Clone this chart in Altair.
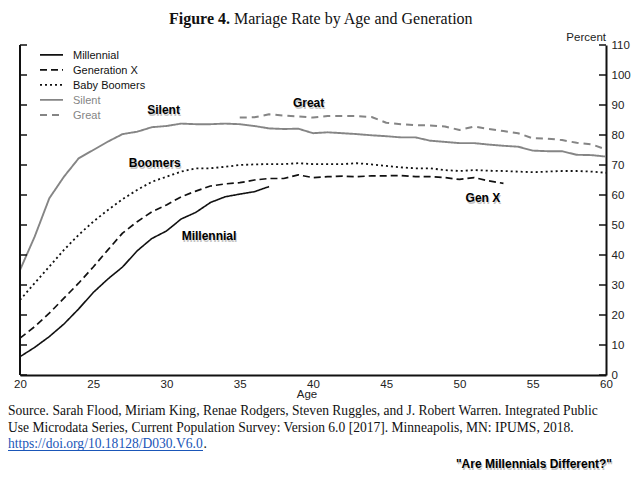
import altair as alt
import pandas as pd

# ---------------- data ----------------
ages_millennial = list(range(20, 38))
millennial = [6.1, 9.2, 12.8, 17.0, 22.0, 27.5, 32.0, 36.0, 41.4, 45.5, 48.0, 52.0,
              54.2, 57.5, 59.4, 60.3, 61.1, 62.8]

ages_genx = list(range(20, 54))
genx = [12.3, 16.1, 20.6, 25.6, 30.6, 36.0, 41.7, 47.3, 51.1, 54.4, 56.7, 59.4,
        61.3, 63.0, 63.7, 64.1, 65.0, 65.5, 65.5, 66.7, 65.8, 66.1, 66.3, 66.1,
        66.4, 66.4, 66.5, 66.1, 66.1, 65.8, 65.2, 65.8, 64.7, 63.9]

ages_boomers = list(range(20, 61))
boomers = [25.0, 30.6, 36.1, 41.7, 46.7, 51.1, 55.0, 58.6, 61.7, 64.4, 66.1, 67.8,
           68.9, 68.9, 69.4, 70.0, 70.2, 70.3, 70.3, 70.6, 70.3, 70.3, 70.3, 70.6,
           70.2, 69.7, 69.2, 68.9, 68.9, 68.3, 68.0, 68.3, 68.1, 68.0, 67.8, 67.6,
           67.8, 68.0, 68.0, 67.8, 67.4]

ages_silent = list(range(20, 61))
silent = [35.0, 46.1, 58.9, 66.1, 72.2, 75.0, 77.8, 80.3, 81.1, 82.6, 83.0, 83.8,
          83.6, 83.6, 83.8, 83.6, 83.0, 82.2, 82.0, 82.1, 80.6, 80.9, 80.6, 80.3,
          79.9, 79.6, 79.2, 79.2, 78.1, 77.7, 77.3, 77.3, 76.8, 76.4, 76.1, 74.8,
          74.6, 74.6, 73.4, 73.3, 72.8]

ages_great = list(range(35, 61))
great = [85.8, 85.9, 86.9, 86.5, 86.2, 85.8, 86.3, 86.3, 86.3, 86.0, 84.1, 83.6,
         83.3, 83.2, 82.8, 81.7, 82.8, 82.0, 81.3, 80.6, 78.9, 78.8, 78.3, 77.4,
         76.9, 75.2]

series_names = ["Millennial", "Generation X", "Baby Boomers", "Silent", "Great"]
series_ages = [ages_millennial, ages_genx, ages_boomers, ages_silent, ages_great]
series_vals = [millennial, genx, boomers, silent, great]

y_ticks = list(range(0, 111, 10))
x_ticks = list(range(20, 61, 5))

annot_labels = ["Silent", "Boomers", "Great", "Gen X", "Millennial"]
annot_age = [29.8, 29.2, 39.7, 51.6, 32.9]
annot_val = [88.3, 70.7, 90.7, 59.0, 46.3]

title_bold = "Figure 4."
title_rest = "Mariage Rate by Age and Generation"
x_title = "Age"
y_title = "Percent"
source_lines = ["Source. Sarah Flood, Miriam King, Renae Rodgers, Steven Ruggles, and J. Robert Warren. Integrated Public",
                "Use Microdata Series, Current Population Survey: Version 6.0 [2017]. Minneapolis, MN: IPUMS, 2018."]
source_url = "https://doi.org/10.18128/D030.V6.0"
tagline = "\"Are Millennials Different?\""

# ---------------- styles ----------------
series_colors = ["#111111", "#111111", "#111111", "#858585", "#858585"]
series_dashes = [[1, 0], [7, 4], [2, 3], [1, 0], [7, 5]]
series_widths = [1.6, 2.0, 2.0, 1.5, 1.6]
SANS = "Liberation Sans, Arial, Helvetica, sans-serif"
SERIF = "Liberation Serif, Times New Roman, serif"
W, H = 586, 330
SRC_SIZE = 13.55

rows = []
for name, ages, vals in zip(series_names, series_ages, series_vals):
    for a, v in zip(ages, vals):
        rows.append({"gen": name, "age": a, "val": v})
df = pd.DataFrame(rows)

color = alt.Color("gen:N", scale=alt.Scale(domain=series_names, range=series_colors), legend=None)
dash = alt.StrokeDash("gen:N", scale=alt.Scale(domain=series_names, range=series_dashes), legend=None)
swidth = alt.StrokeWidth("gen:N", scale=alt.Scale(domain=series_names, range=series_widths), legend=None)

x_enc = alt.X("age:Q", scale=alt.Scale(domain=[20, 60], nice=False, zero=False),
              axis=alt.Axis(values=x_ticks, ticks=False, grid=False, domainColor="#111111",
                            domainWidth=2, labelFont=SANS, labelFontSize=11.5, labelColor="#222222",
                            labelPadding=3, labelFlush=False, labelOverlap=False, title=None))
y_enc = alt.Y("val:Q", scale=alt.Scale(domain=[0, 110], nice=False, zero=True),
              axis=alt.Axis(orient="right", values=y_ticks, ticks=False, grid=False,
                            domainColor="#111111", domainWidth=2, labelFont=SANS, labelFontSize=11.5,
                            labelColor="#222222", labelPadding=5, labelFlush=False, labelOverlap=False,
                            title=None))

lines = alt.Chart(df).mark_line(strokeCap="butt", strokeJoin="round").encode(
    x=x_enc, y=y_enc, color=color, strokeDash=dash, strokeWidth=swidth, detail="gen:N")

# tick marks pointing inward on both vertical axes
tick_df = pd.DataFrame({"val": y_ticks})
ticks_left = alt.Chart(tick_df).mark_rule(color="#111111", strokeWidth=1.5).encode(
    y=alt.Y("val:Q", axis=None), x=alt.value(0), x2=alt.value(7))
ticks_right = alt.Chart(tick_df).mark_rule(color="#111111", strokeWidth=1.5).encode(
    y=alt.Y("val:Q", axis=None), x=alt.value(W - 7), x2=alt.value(W))
left_line = alt.Chart(pd.DataFrame({"lo": [min(y_ticks)], "hi": [max(y_ticks)]})).mark_rule(
    color="#111111", strokeWidth=2).encode(
    x=alt.value(0), y=alt.Y("lo:Q", axis=None), y2="hi:Q")

# manual legend
legend_df = pd.DataFrame({"gen": series_names, "i": list(range(len(series_names)))})
legend_sym = alt.Chart(legend_df).transform_calculate(lv="106.7 - 5*datum.i").mark_rule(
    strokeCap="butt").encode(
    x=alt.value(20), x2=alt.value(43), y=alt.Y("lv:Q", axis=None),
    color=color, strokeDash=dash, strokeWidth=swidth)
legend_txt = alt.Chart(legend_df).transform_calculate(lv="106.7 - 5*datum.i").mark_text(
    align="left", baseline="middle", font=SANS, fontSize=11, dy=1).encode(
    x=alt.value(53), y=alt.Y("lv:Q", axis=None), text="gen:N", color=color)

# in-plot annotations with soft shadow
annot_df = pd.DataFrame({"label": annot_labels, "age": annot_age, "val": annot_val})
annot_shadow = alt.Chart(annot_df).mark_text(
    font=SANS, fontSize=12, fontWeight="bold", color="#c4c4c4", dx=1, dy=2,
    align="center", baseline="middle").encode(
    x=alt.X("age:Q", axis=None), y=alt.Y("val:Q", axis=None), text="label:N")
annot = alt.Chart(annot_df).mark_text(
    font=SANS, fontSize=12, fontWeight="bold", color="#000000",
    align="center", baseline="middle").encode(
    x=alt.X("age:Q", axis=None), y=alt.Y("val:Q", axis=None), text="label:N")


def label(txt, x, y, **kw):
    return alt.Chart(pd.DataFrame({"t": [txt]})).mark_text(**kw).encode(
        x=alt.value(x), y=alt.value(y), text="t:N")


t1 = label(title_bold, 210, -21, font=SERIF, fontSize=16, fontWeight="bold", align="right",
           baseline="alphabetic", color="#111111")
t2 = label(title_rest, 214, -21, font=SERIF, fontSize=16, align="left",
           baseline="alphabetic", color="#111111")
percent = label(y_title, W, -4, font=SANS, fontSize=11.5, align="right",
                baseline="alphabetic", color="#222222")
age_lbl = label(x_title, 287, H + 23, font=SANS, fontSize=11.5, align="center",
                baseline="alphabetic", color="#222222")
src = alt.Chart(pd.DataFrame({"t": ["\n".join(source_lines)]})).mark_text(
    font=SERIF, fontSize=SRC_SIZE, align="left", baseline="alphabetic", color="#111111",
    lineBreak="\n", lineHeight=16.7).encode(x=alt.value(-12), y=alt.value(370), text="t:N")
url = label(source_url, -12, 403.4, font=SERIF, fontSize=SRC_SIZE, align="left",
            baseline="alphabetic", color="#1a56b8")
url_dot = label(".", 183.5, 403.4, font=SERIF, fontSize=SRC_SIZE, align="left",
                baseline="alphabetic", color="#111111")
underline = alt.Chart(pd.DataFrame({"t": [source_url]})).mark_rule(
    color="#1a56b8", strokeWidth=1).encode(x=alt.value(-12), x2=alt.value(183), y=alt.value(405.5))
tag_shadow = label(tagline, 593, 424.5, font=SANS, fontSize=12, fontWeight="bold", align="right",
                   baseline="alphabetic", color="#c4c4c4")
tag = label(tagline, 592, 423, font=SANS, fontSize=12, fontWeight="bold", align="right",
            baseline="alphabetic", color="#000000")

chart = alt.layer(
    lines, ticks_left, ticks_right, left_line, legend_sym, legend_txt,
    annot_shadow, annot, t1, t2, percent, age_lbl, src, url, url_dot, underline, tag_shadow, tag
).resolve_axis(x="independent", y="independent").properties(
    width=W, height=H,
    autosize=alt.AutoSizeParams(type="none"),
    padding={"left": 12, "top": 37, "right": 25, "bottom": 96},
    background="white"
).configure_view(stroke=None)

chart.save("out.html", embed_options={"renderer": "svg", "actions": False})
